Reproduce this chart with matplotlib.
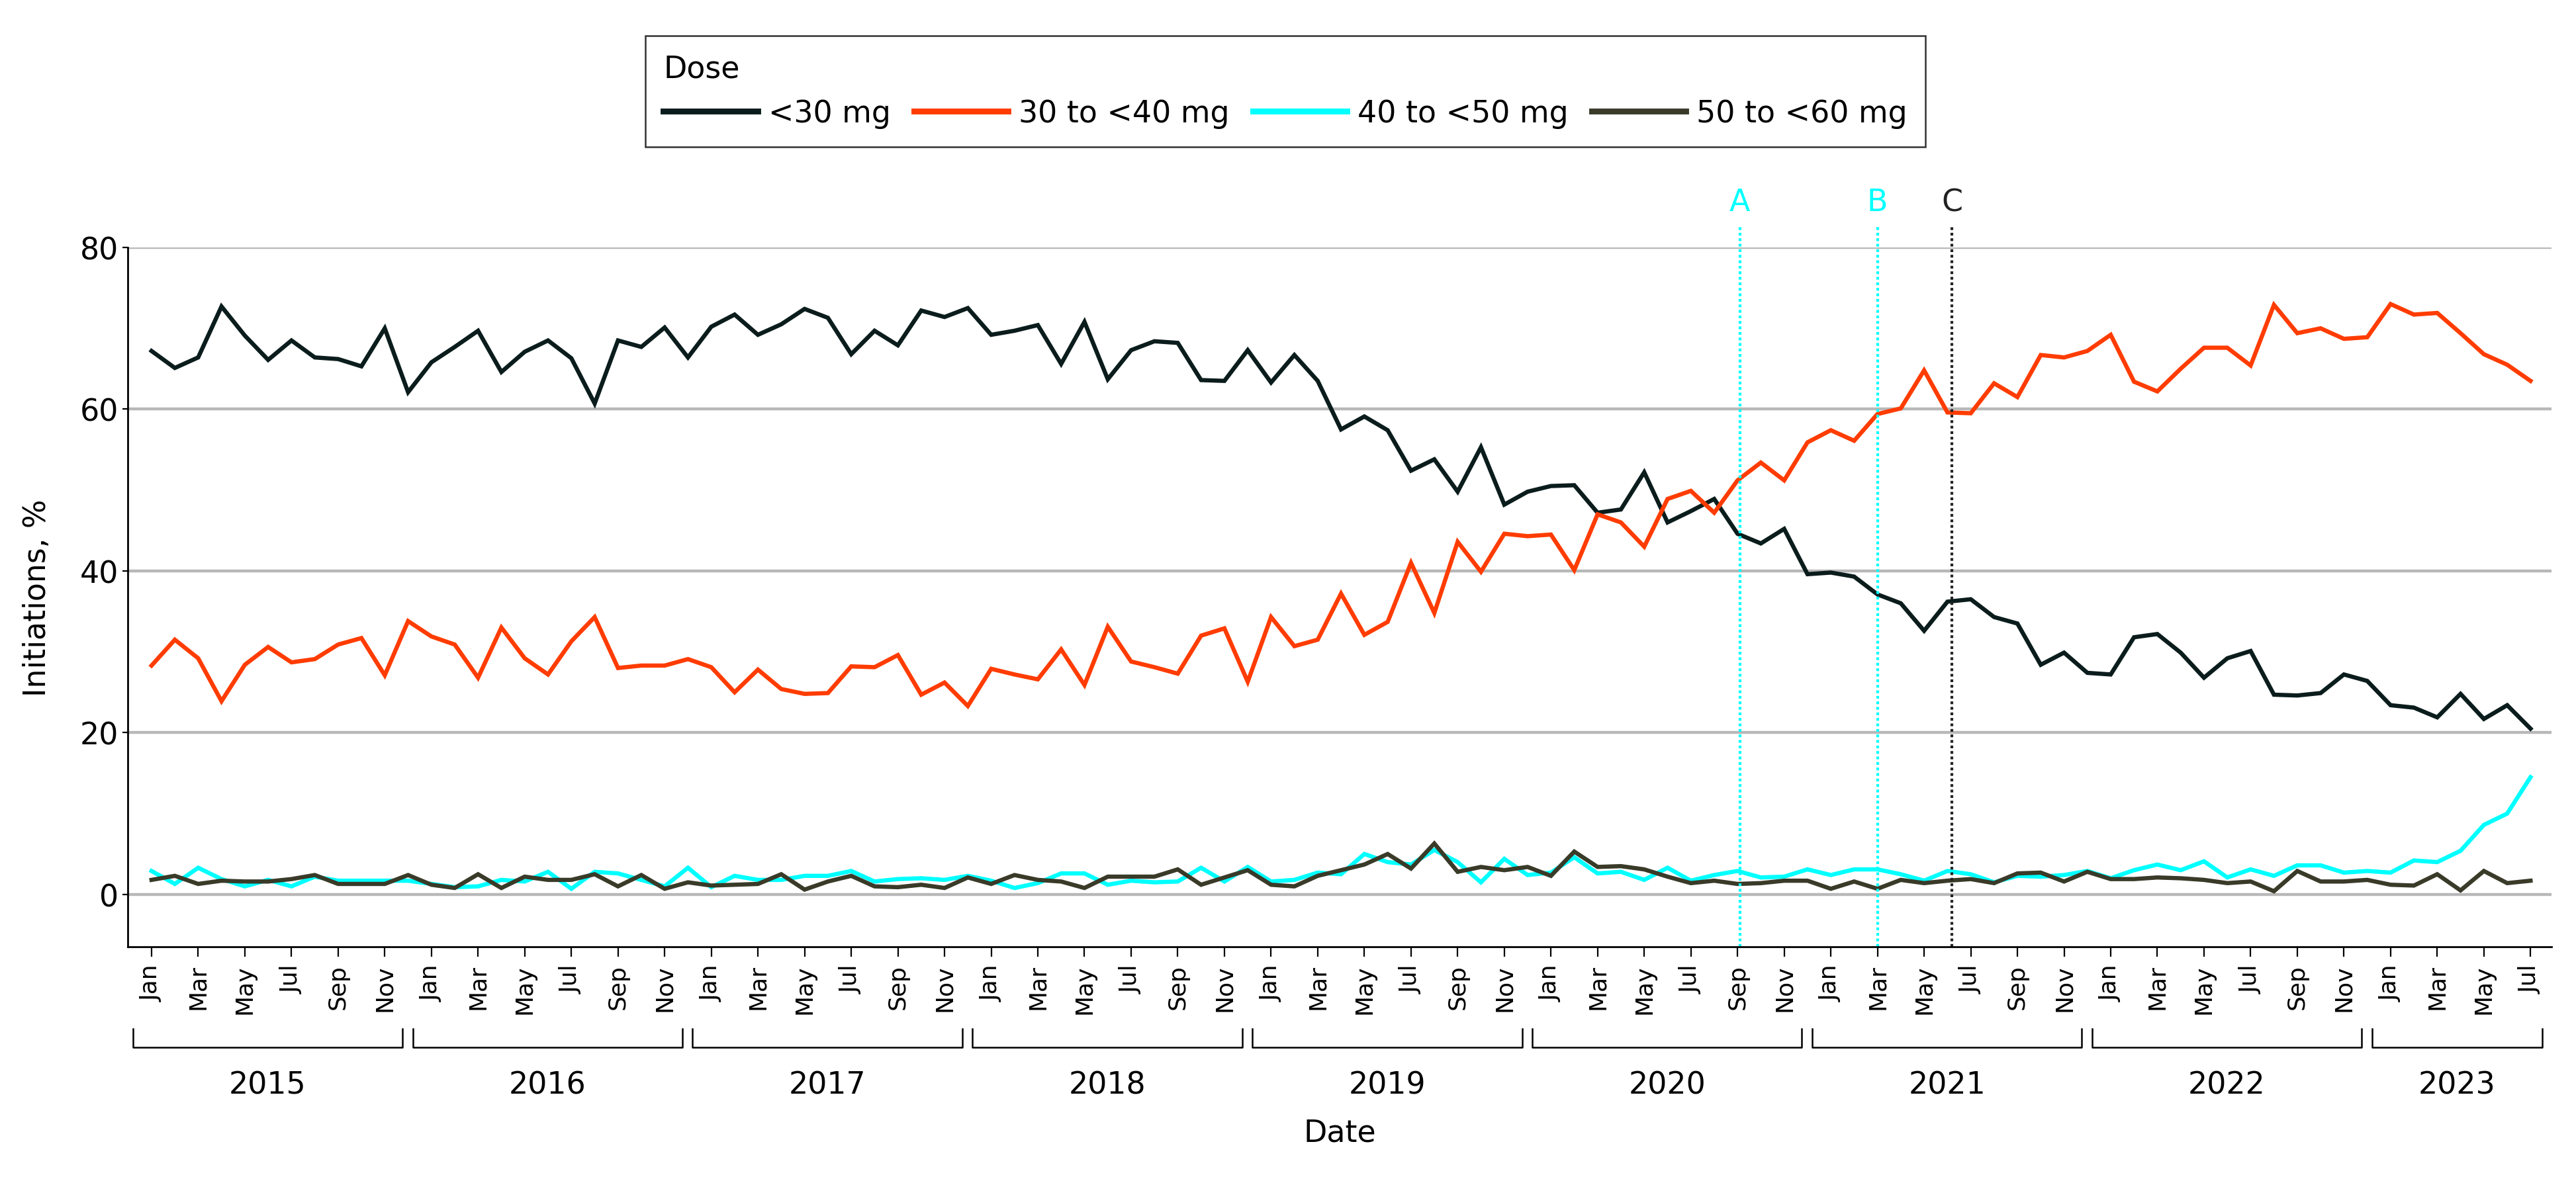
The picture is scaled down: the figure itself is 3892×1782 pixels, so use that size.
import numpy as np
import matplotlib.pyplot as plt
from matplotlib.transforms import blended_transform_factory

plt.rcParams["font.family"] = ["DejaVu Sans"]

# monthly share of initiations (%), Jan 2015 .. Jul 2023
years = [2015, 2016, 2017, 2018, 2019, 2020, 2021, 2022, 2023]
month_names = ["Jan", "Feb", "Mar", "Apr", "May", "Jun",
               "Jul", "Aug", "Sep", "Oct", "Nov", "Dec"]

dose_lt30 = [
    67.2, 65.1, 66.4, 72.7, 69.1, 66.1, 68.5, 66.4, 66.2, 65.3, 70.0, 62.1,
    65.8, 67.7, 69.7, 64.6, 67.1, 68.5, 66.3, 60.7, 68.5, 67.7, 70.1, 66.4,
    70.2, 71.7, 69.2, 70.5, 72.4, 71.3, 66.8, 69.7, 67.9, 72.2, 71.4, 72.5,
    69.2, 69.7, 70.4, 65.6, 70.8, 63.7, 67.3, 68.4, 68.2, 63.6, 63.5, 67.3,
    63.3, 66.7, 63.5, 57.5, 59.1, 57.4, 52.4, 53.8, 49.8, 55.3, 48.2, 49.8,
    50.5, 50.6, 47.2, 47.6, 52.2, 46.0, 47.4, 48.9, 44.6, 43.4, 45.2, 39.6,
    39.8, 39.3, 37.1, 36.0, 32.6, 36.2, 36.5, 34.3, 33.5, 28.4, 29.9, 27.4,
    27.2, 31.8, 32.2, 29.9, 26.8, 29.2, 30.1, 24.7, 24.6, 24.9, 27.2, 26.4,
    23.4, 23.1, 21.9, 24.8, 21.7, 23.4, 20.5,
]
dose_30_40 = [
    28.3, 31.5, 29.2, 23.9, 28.4, 30.6, 28.7, 29.1, 30.9, 31.7, 27.1, 33.8,
    31.9, 30.9, 26.8, 33.0, 29.2, 27.2, 31.3, 34.3, 28.0, 28.3, 28.3, 29.1,
    28.1, 25.0, 27.8, 25.4, 24.8, 24.9, 28.2, 28.1, 29.6, 24.7, 26.2, 23.3,
    27.9, 27.2, 26.6, 30.3, 25.9, 33.1, 28.8, 28.1, 27.3, 32.0, 32.9, 26.3,
    34.3, 30.7, 31.5, 37.2, 32.1, 33.7, 41.0, 34.8, 43.6, 39.9, 44.6, 44.3,
    44.5, 40.1, 47.0, 46.0, 43.0, 48.9, 49.9, 47.2, 51.2, 53.4, 51.2, 55.9,
    57.4, 56.1, 59.4, 60.1, 64.8, 59.6, 59.5, 63.2, 61.5, 66.7, 66.4, 67.2,
    69.2, 63.4, 62.2, 65.0, 67.6, 67.6, 65.4, 72.9, 69.4, 70.0, 68.7, 68.9,
    73.0, 71.7, 71.9, 69.4, 66.8, 65.5, 63.5,
]
dose_40_50 = [
    2.9, 1.3, 3.3, 1.9, 1.0, 1.8, 1.0, 2.2, 1.7, 1.7, 1.7, 1.7,
    1.3, 0.9, 1.0, 1.8, 1.6, 2.8, 0.7, 2.8, 2.6, 1.8, 1.0, 3.3,
    0.9, 2.3, 1.8, 1.8, 2.3, 2.3, 2.9, 1.6, 1.9, 2.0, 1.8, 2.3,
    1.7, 0.8, 1.4, 2.6, 2.6, 1.2, 1.7, 1.5, 1.6, 3.3, 1.6, 3.4,
    1.6, 1.8, 2.7, 2.5, 5.0, 4.0, 3.7, 5.5, 4.0, 1.5, 4.4, 2.4,
    2.7, 4.6, 2.6, 2.8, 1.8, 3.3, 1.7, 2.4, 2.9, 2.1, 2.2, 3.1,
    2.4, 3.1, 3.1, 2.5, 1.7, 2.9, 2.5, 1.5, 2.3, 2.2, 2.4, 2.9,
    2.0, 3.0, 3.7, 3.0, 4.1, 2.1, 3.1, 2.3, 3.6, 3.6, 2.7, 2.9,
    2.7, 4.2, 4.0, 5.4, 8.6, 10.0, 14.5,
]
dose_50_60 = [
    1.8, 2.3, 1.3, 1.7, 1.6, 1.6, 1.9, 2.4, 1.3, 1.3, 1.3, 2.4,
    1.2, 0.8, 2.5, 0.8, 2.2, 1.8, 1.8, 2.5, 1.0, 2.4, 0.7, 1.5,
    1.1, 1.2, 1.3, 2.5, 0.6, 1.6, 2.3, 1.0, 0.9, 1.2, 0.8, 2.1,
    1.3, 2.4, 1.8, 1.6, 0.8, 2.2, 2.2, 2.2, 3.1, 1.2, 2.1, 3.0,
    1.2, 1.0, 2.3, 3.0, 3.7, 5.0, 3.2, 6.3, 2.8, 3.4, 3.0, 3.4,
    2.3, 5.3, 3.4, 3.5, 3.1, 2.2, 1.4, 1.7, 1.3, 1.4, 1.7, 1.7,
    0.7, 1.6, 0.7, 1.8, 1.4, 1.7, 1.9, 1.4, 2.6, 2.7, 1.6, 2.8,
    1.9, 1.9, 2.1, 2.0, 1.8, 1.4, 1.6, 0.4, 2.9, 1.6, 1.6, 1.8,
    1.2, 1.1, 2.5, 0.5, 2.9, 1.4, 1.7,
]

series = [
    ("<30 mg", dose_lt30, "#0b1c1c"),
    ("30 to <40 mg", dose_30_40, "#ff3c00"),
    ("40 to <50 mg", dose_40_50, "#00ffff"),
    ("50 to <60 mg", dose_50_60, "#393a28"),
]

# policy events (month index, label, colour)
events = [(68.1, "A", "#00ffff"), (74.0, "B", "#00ffff"), (77.2, "C", "#222222")]

n = len(dose_lt30)
x = np.arange(n)
labels = [month_names[i % 12] for i in range(n)]

fig = plt.figure(figsize=(19.46, 8.915), dpi=200)
ax = fig.add_axes([193 / 3892, 351 / 1783, 3662 / 3892, 1057 / 1783])

for name, vals, col in series:
    ax.plot(x, vals, color=col, lw=2.3, label=name, solid_joinstyle="miter")

ymin = -6.47
ax.set_ylim(ymin, 80)
ax.set_xlim(-1.02, 102.9)
ax.set_yticks([0, 20, 40, 60, 80])
ax.grid(axis="y", color="#b8b8b8", lw=1.6)
ax.set_axisbelow(True)
ax.set_xticks(x[::2])
ax.set_xticklabels(labels[::2], rotation=90, fontsize=13)
ax.tick_params(axis="x", length=5.5, width=0.8, pad=4)
ax.tick_params(axis="y", length=3, width=0.8, pad=2, labelsize=16.5)
for s in ["top", "right"]:
    ax.spines[s].set_visible(False)
for s in ["left", "bottom"]:
    ax.spines[s].set_linewidth(1.0)
ax.set_ylabel("Initiations, %", fontsize=16.5, labelpad=15)

for xv, lab, col in events:
    ax.plot([xv, xv], [ymin, 82.5], ls=(0, (1, 1)), lw=1.5, color=col, clip_on=False)
    ax.text(xv, 85.6, lab, color=col, ha="center", va="center", fontsize=16.5)

# year brackets under the month labels
tr = blended_transform_factory(ax.transData, ax.transAxes)
for k, yr in enumerate(years):
    left = 12 * k - 0.8
    right = min(12 * k + 10.76, 102.5)
    ax.plot([left, left, right, right], [-0.1173, -0.1438, -0.1438, -0.1173],
            transform=tr, color="black", lw=0.9, clip_on=False)
    ax.text((left + right) / 2, -0.198, str(yr), transform=tr,
            ha="center", va="center", fontsize=16.5)
ax.text(0.5, -0.266, "Date", transform=ax.transAxes, ha="center", va="center",
        fontsize=16.5)

leg = fig.legend(loc="upper left", ncol=4, mode="expand", borderaxespad=0,
                 bbox_to_anchor=(975 / 3892, 1 - 223 / 1783, 1934 / 3892, 168 / 1783),
                 title="Dose", alignment="left", fontsize=16.5, title_fontsize=16.5,
                 handlelength=3.1, handletextpad=0.35, frameon=True, fancybox=False,
                 borderpad=0.6)
leg.get_frame().set_edgecolor("black")
leg.get_frame().set_linewidth(0.9)
for h in leg.legend_handles:
    h.set_linewidth(3.2)

fig.savefig("out.png", dpi=200)
